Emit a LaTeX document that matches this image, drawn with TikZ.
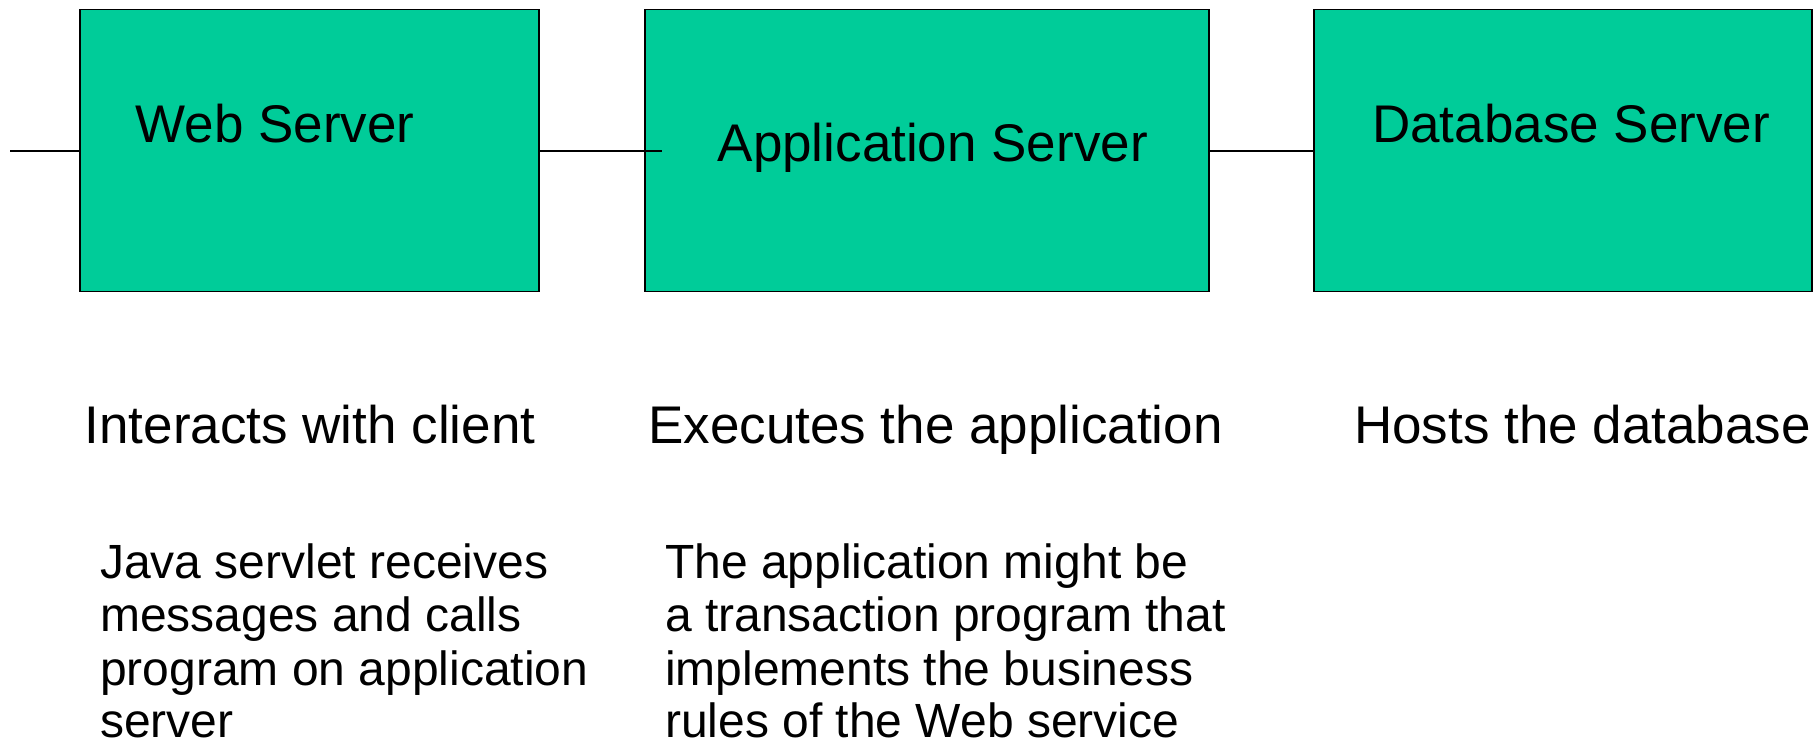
\documentclass[tikz,border=0pt]{standalone}
\usepackage{fontspec}
\setmainfont{Liberation Sans}
\definecolor{boxgreen}{RGB}{0,204,153}
\tikzset{
  server/.style={draw=black, line width=1.6pt, fill=boxgreen, minimum height=282pt, inner sep=0pt, outer sep=0pt},
  title/.style={anchor=base west, inner sep=0pt, font=\fontsize{53}{60}\selectfont},
  body/.style={anchor=base west, inner sep=0pt, font=\fontsize{48}{54}\selectfont},
  link/.style={draw=black, line width=1.6pt}
}
\begin{document}
\begin{tikzpicture}[x=1pt,y=-1pt]
\useasboundingbox (0,0) rectangle (1819,741);
% boxes
\node[server, minimum width=459pt] (web) at (309.5,150.5) {};
\node[server, minimum width=564pt] (app) at (927,150.5) {};
\node[server, minimum width=498pt] (db) at (1563,150.5) {};
% box titles
\node[title] (webt) at (135.5,142.5) {Web Server};
\node[title] (appt) at (717.5,161) {Application Server};
\node[title] (dbt) at (1372,142.5) {Database Server};
% connectors
\coordinate (lend) at (10,151);
\coordinate (aend) at (662,151);
\draw[link] (lend) -- (lend -| web.west);
\draw[link] (web.east |- lend) -- (aend);
\draw[link] (app.east |- lend) -- (db.west |- lend);
% headings
\node[title] (h1) at (84.5,443) {Interacts with client};
\node[title] (h2) at (648,443) {Executes the application};
\node[title] (h3) at (1354,443) {Hosts the database};
% web description
\node[body] (w1) at (100,578) {Java servlet receives};
\node[body] (w2) at (100,631.5) {messages and calls};
\node[body] (w3) at (100,685) {program on application};
\node[body] (w4) at (100,737) {server};
% app description
\node[body] (a1) at (665,578) {The application might be};
\node[body] (a2) at (665,631.5) {a transaction program that};
\node[body] (a3) at (665,685) {implements the business};
\node[body] (a4) at (665,737) {rules of the Web service};
\end{tikzpicture}
\end{document}
